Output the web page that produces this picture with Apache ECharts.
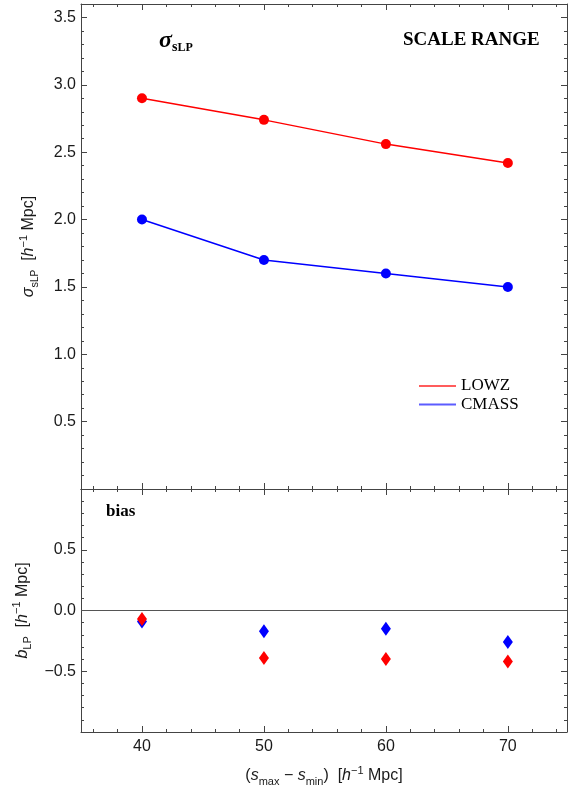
<!DOCTYPE html>
<html>
<head>
<meta charset="utf-8">
<script src="https://cdn.jsdelivr.net/npm/echarts@6/dist/echarts.min.js"></script>
<style>
  html, body { margin: 0; padding: 0; background: #fff; }
  #chart { width: 574px; height: 789px; }
</style>
</head>
<body>
<div id="chart"></div>
<script>
// Scale range (s_max - s_min) in h^-1 Mpc
const scaleRange = [40, 50, 60, 70];

// Width of the LP position distribution
const sigmaLOWZ  = [2.90, 2.74, 2.56, 2.42];
const sigmaCMASS = [2.00, 1.70, 1.60, 1.50];

// Bias of the LP position
const biasLOWZ  = [-0.07, -0.39, -0.40, -0.42];
const biasCMASS = [-0.09, -0.17, -0.15, -0.26];

// Tick positions
const xMajorTicks = [40, 50, 60, 70];
const xMinorTicks = [36, 38, 42, 44, 46, 48, 52, 54, 56, 58, 62, 64, 66, 68, 72, 74];
const sigmaMajorTicks = [0.5, 1.0, 1.5, 2.0, 2.5, 3.0, 3.5];
const sigmaMinorTicks = [0.1, 0.2, 0.3, 0.4, 0.6, 0.7, 0.8, 0.9, 1.1, 1.2, 1.3, 1.4,
  1.6, 1.7, 1.8, 1.9, 2.1, 2.2, 2.3, 2.4, 2.6, 2.7, 2.8, 2.9, 3.1, 3.2, 3.3, 3.4];
const biasMajorTicks = [-0.5, 0.0, 0.5];
const biasMinorTicks = [-0.9, -0.8, -0.7, -0.6, -0.4, -0.3, -0.2, -0.1,
  0.1, 0.2, 0.3, 0.4, 0.6, 0.7, 0.8, 0.9];

const FRAME = '#444';
const LABEL = '#1a1a1a';
const SANS = '"Liberation Sans", Arial, sans-serif';
const SERIF = '"Liberation Serif", "Times New Roman", serif';

const pairs = (xs, ys) => xs.map((x, i) => [x, ys[i]]);
const fmt = v => (v < 0 ? '\u2212' + Math.abs(v).toFixed(1) : v.toFixed(1));

const unitRich = {
  base: { fontFamily: SANS, fontSize: 16, color: LABEL, lineHeight: 22 },
  it:   { fontFamily: SANS, fontSize: 16, fontStyle: 'italic', color: LABEL, lineHeight: 22 },
  sub:  { fontFamily: SANS, fontSize: 11, color: LABEL, lineHeight: 12, verticalAlign: 'bottom' },
  subs: { fontFamily: SANS, fontSize: 10, color: LABEL, lineHeight: 11, verticalAlign: 'bottom' },
  sup:  { fontFamily: SANS, fontSize: 11, color: LABEL, lineHeight: 14, verticalAlign: 'top' }
};

// Four x axes per panel: bottom/top frame edges, each with major and minor ticks
function makeXAxes(g, withLabels) {
  const base = {
    type: 'value', gridIndex: g, min: 35, max: 74.85,
    splitLine: { show: false }
  };
  const list = [];
  ['bottom', 'top'].forEach(pos => {
    const main = pos === 'bottom';
    list.push(Object.assign({}, base, {
      position: pos,
      axisLine: { show: true, onZero: false, lineStyle: { color: FRAME, width: 1 } },
      axisTick: { show: true, inside: true, length: 6, customValues: xMajorTicks,
                  lineStyle: { color: FRAME, width: 1 } },
      axisLabel: { show: withLabels && main, customValues: xMajorTicks, margin: 7,
                   fontFamily: SANS, fontSize: 16, color: LABEL },
      name: withLabels && main
        ? '({it|s}{sub|max} \u2212 {it|s}{sub|min})  [{it|h}{sup|\u22121} Mpc]' : '',
      nameLocation: 'middle',
      nameGap: 33,
      nameTextStyle: { fontFamily: SANS, fontSize: 16, color: LABEL, rich: unitRich }
    }));
    list.push(Object.assign({}, base, {
      position: pos,
      axisLine: { show: false, onZero: false },
      axisTick: { show: true, inside: true, length: 3, customValues: xMinorTicks,
                  lineStyle: { color: FRAME, width: 1 } },
      axisLabel: { show: false }
    }));
  });
  return list;
}

// Four y axes per panel: left/right frame edges, each with major and minor ticks
function makeYAxes(g, min, max, major, minor, title) {
  const base = {
    type: 'value', gridIndex: g, min: min, max: max,
    splitLine: { show: false }
  };
  const list = [];
  ['left', 'right'].forEach(pos => {
    const main = pos === 'left';
    list.push(Object.assign({}, base, {
      position: pos,
      axisLine: { show: true, onZero: false, lineStyle: { color: FRAME, width: 1 } },
      axisTick: { show: true, inside: true, length: 6, customValues: major,
                  lineStyle: { color: FRAME, width: 1 } },
      axisLabel: { show: main, customValues: major, margin: 5, formatter: fmt,
                   fontFamily: SANS, fontSize: 16, color: LABEL },
      name: main ? title : '',
      nameLocation: 'middle',
      nameRotate: 90,
      nameGap: 41,
      nameTextStyle: { fontFamily: SANS, fontSize: 16, color: LABEL, rich: unitRich }
    }));
    list.push(Object.assign({}, base, {
      position: pos,
      axisLine: { show: false, onZero: false },
      axisTick: { show: true, inside: true, length: 3, customValues: minor,
                  lineStyle: { color: FRAME, width: 1 } },
      axisLabel: { show: false }
    }));
  });
  return list;
}

const chart = echarts.init(document.getElementById('chart'), null, { renderer: 'canvas' });

const option = {
  animation: false,
  backgroundColor: '#fff',
  grid: [
    { left: 81, top: 4, width: 486, height: 485 },
    { left: 81, top: 489, width: 486, height: 243 }
  ],
  xAxis: [].concat(makeXAxes(0, false), makeXAxes(1, true)),
  yAxis: [].concat(
    makeYAxes(0, 0, 3.6, sigmaMajorTicks, sigmaMinorTicks,
      '{it|\u03c3}{sub|s}{subs|LP}  [{it|h}{sup|\u22121} Mpc]'),
    makeYAxes(1, -1, 1, biasMajorTicks, biasMinorTicks,
      '{it|b}{sub|LP}  [{it|h}{sup|\u22121} Mpc]')
  ),
  title: [
    {
      left: 159, top: 28, padding: 0,
      text: '{sig|\u03c3}{s|s}{lp|LP}',
      textStyle: {
        rich: {
          sig: { fontFamily: SERIF, fontSize: 24, fontWeight: 'bold', fontStyle: 'italic',
                 color: '#000', lineHeight: 26 },
          s:   { fontFamily: SERIF, fontSize: 14, fontWeight: 'bold', color: '#000',
                 lineHeight: 16, verticalAlign: 'bottom' },
          lp:  { fontFamily: SERIF, fontSize: 12, fontWeight: 'bold', color: '#000',
                 lineHeight: 14, verticalAlign: 'bottom' }
        }
      }
    },
    {
      left: 403, top: 31, padding: 0,
      text: 'SCALE RANGE',
      textStyle: { fontFamily: SERIF, fontSize: 19, fontWeight: 'bold', color: '#000' }
    },
    {
      left: 106, top: 503, padding: 0,
      text: 'bias',
      textStyle: { fontFamily: SERIF, fontSize: 17, fontWeight: 'bold', color: '#000' }
    }
  ],
  legend: {
    orient: 'vertical',
    left: 419, top: 374, padding: 0,
    itemWidth: 37, itemHeight: 2, itemGap: -5.4,
    icon: 'rect',
    selectedMode: false,
    textStyle: { fontFamily: SERIF, fontSize: 17, color: '#000', lineHeight: 18,
                 padding: [0, 0, 6, 0] },
    data: [
      { name: 'LOWZ', itemStyle: { color: '#ff5c5c' } },
      { name: 'CMASS', itemStyle: { color: '#5c5cff' } }
    ]
  },
  series: [
    {
      name: 'LOWZ', type: 'line', xAxisIndex: 0, yAxisIndex: 0,
      data: pairs(scaleRange, sigmaLOWZ),
      symbol: 'circle', symbolSize: 10,
      itemStyle: { color: '#ff0000', opacity: 1 },
      lineStyle: { color: '#ff0000', width: 1.5 }
    },
    {
      name: 'CMASS', type: 'line', xAxisIndex: 0, yAxisIndex: 0,
      data: pairs(scaleRange, sigmaCMASS),
      symbol: 'circle', symbolSize: 10,
      itemStyle: { color: '#0000ff', opacity: 1 },
      lineStyle: { color: '#0000ff', width: 1.5 }
    },
    {
      name: 'CMASS bias', type: 'scatter', xAxisIndex: 4, yAxisIndex: 4,
      data: pairs(scaleRange, biasCMASS),
      symbol: 'diamond', symbolSize: [10, 14],
      itemStyle: { color: '#0000ff', opacity: 1 },
      markLine: {
        silent: true, symbol: 'none', label: { show: false },
        lineStyle: { color: '#555', width: 1, type: 'solid' },
        data: [{ yAxis: 0 }]
      }
    },
    {
      name: 'LOWZ bias', type: 'scatter', xAxisIndex: 4, yAxisIndex: 4,
      data: pairs(scaleRange, biasLOWZ),
      symbol: 'diamond', symbolSize: [10, 14],
      itemStyle: { color: '#ff0000', opacity: 1 }
    }
  ]
};

chart.setOption(option);
</script>
</body>
</html>
